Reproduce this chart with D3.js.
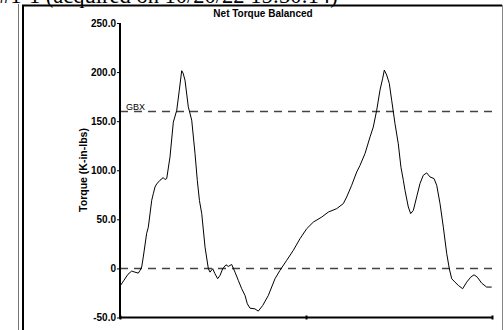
<!DOCTYPE html>
<html>
<head>
<meta charset="utf-8">
<script src="https://cdn.jsdelivr.net/npm/d3@7/dist/d3.min.js"></script>
<style>
  html, body { margin: 0; padding: 0; background: #fff; overflow: hidden; }
  svg { display: block; }
</style>
</head>
<body>
<script>
// Crank angle (deg) and net balanced torque (K-in-lbs)
const angle = [0, 3.9, 7.7, 11.3, 14.5, 17.7, 19.4, 21, 22.5, 25.8, 27.4, 30.7, 32.2, 33.9, 35.5,
  38.7, 41.9, 43.5, 45.2, 48.4, 51.6, 54.9, 57.4, 59.7, 61, 62.9, 66.1, 69.4, 72.6, 74.8, 76.9,
  79.1, 82.3, 85.5, 87.1, 89.7, 91.9, 94.5, 96.8, 99.4, 102.6, 104.8, 108.1, 111.3, 114.5, 117.8,
  121, 123.2, 125.8, 130.6, 133.8, 138.1, 143.5, 150, 154.8, 161.3, 167.7, 174.2, 180.7, 187.1,
  195.2, 201.6, 209.7, 216.1, 219.4, 224.2, 229.1, 232.3, 237.1, 242, 245.1, 248.4, 251.6, 254.2,
  255.8, 258.1, 260.6, 262.9, 266.1, 269.3, 271.9, 274.2, 275.8, 279, 281.3, 283.9, 287.1, 290.3,
  293.5, 296.8, 300, 303.9, 306.5, 309.7, 312.9, 316.2, 318.7, 321, 324.2, 327.4, 331.6, 335.5,
  339.4, 342.6, 345.8, 350, 354.8, 359.7];
const torque = [-18, -12, -6, -2.7, -3.8, -4.8, -2, 1.4, 11.5, 35.7, 42, 69.4, 76, 83, 86,
  89.8, 92.5, 90.5, 91.5, 113.6, 149, 161, 181.6, 201.4, 199, 191.8, 164.6, 151, 117, 89.8, 69,
  55.8, 21.7, -0.3, -3.8, -0.3, -5.4, -10.5, -7.1, -0.3, 3.7, 2, 4, -3.8, -12.2, -20.7,
  -27.6, -36, -40.5, -41.2, -43.5, -37.8, -27.6, -10.5, -2, 8.2, 18.4, 30.3, 40.5, 47.2,
  52.3, 57.4, 60.9, 66, 72.8, 84.7, 98.3, 105, 117, 134, 144, 161, 181.6, 193.6,
  202, 197, 188.5, 171.4, 147.6, 127, 103, 89.8, 79.6, 62.6, 55.8, 59.2, 72.8, 86.4,
  94.9, 97.3, 93.2, 91.5, 84.7, 66, 42, 15, -0.3, -10.5, -14, -17.3, -20.7, -14,
  -8.9, -6.5, -8.9, -15, -19, -19];

const yTicks = [250, 200, 150, 100, 50, 0, -50];
const yTickLabels = ["250.0", "200.0", "150.0", "100.0", "50.0", "0", "-50.0"];
const xTicks = [0, 180, 360];
const refLines = [{ value: 160, label: "GBX" }, { value: 0, label: "" }];

const W = 504, H = 330;
const svg = d3.select("body").append("svg").attr("width", W).attr("height", H);

const sans = "'Liberation Sans', Arial, sans-serif";

// Report header line, running off the top of the page
svg.append("text")
  .attr("x", -1).attr("y", 2.5)
  .attr("font-family", "'Liberation Serif', 'Times New Roman', serif")
  .attr("font-size", 22.5)
  .attr("fill", "#000")
  .text("#1-1 (acquired on 10/20/22 15:30:14)");

// Panel frames
svg.append("line").attr("x1", 18.5).attr("x2", 18.5).attr("y1", 4).attr("y2", H)
  .attr("stroke", "#777").attr("stroke-width", 1);
svg.append("line").attr("x1", 23).attr("x2", 23).attr("y1", 5).attr("y2", H)
  .attr("stroke", "#000").attr("stroke-width", 2);
svg.append("line").attr("x1", 22).attr("x2", 502).attr("y1", 5.5).attr("y2", 5.5)
  .attr("stroke", "#000").attr("stroke-width", 2);
svg.append("line").attr("x1", 502.5).attr("x2", 502.5).attr("y1", 5).attr("y2", H)
  .attr("stroke", "#888").attr("stroke-width", 1);

const x = d3.scaleLinear().domain([0, 360]).range([120, 492]);
const y = d3.scaleLinear().domain([-50, 250]).range([317.5, 23]);

// Title
svg.append("text")
  .attr("x", 263).attr("y", 17)
  .attr("text-anchor", "middle")
  .attr("font-family", sans).attr("font-size", 10).attr("font-weight", "bold")
  .text("Net Torque Balanced");

// Reference lines
refLines.forEach(r => {
  svg.append("line")
    .attr("x1", x(0)).attr("x2", x(360))
    .attr("y1", Math.round(y(r.value)) + 0.5).attr("y2", Math.round(y(r.value)) + 0.5)
    .attr("stroke", "#444").attr("stroke-width", 1.3)
    .attr("stroke-dasharray", "8,6");
  if (r.label) {
    svg.append("text")
      .attr("x", x(0) + 6).attr("y", y(r.value) - 1.5)
      .attr("font-family", sans).attr("font-size", 9)
      .text(r.label);
  }
});

// Torque trace
const pts = angle.map((a, i) => [a, torque[i]]);
svg.append("path")
  .datum(pts)
  .attr("fill", "none")
  .attr("stroke", "#000")
  .attr("stroke-width", 1)
  .attr("d", d3.line().x(d => x(d[0])).y(d => y(d[1])));

// Y axis
const yAxis = d3.axisLeft(y).tickValues(yTicks)
  .tickFormat((d, i) => yTickLabels[i]).tickSize(3).tickPadding(1);
const gy = svg.append("g").attr("transform", "translate(120,0)").call(yAxis);
gy.select(".domain").attr("stroke-width", 2).attr("d", `M0,${y(250)}V${y(-50)}`);
gy.selectAll("text").attr("font-family", sans).attr("font-size", 10).attr("font-weight", "bold");

// X axis (unlabelled)
const xAxis = d3.axisBottom(x).tickValues(xTicks).tickFormat("").tickSize(2);
const gx = svg.append("g").attr("transform", `translate(0,${y(-50)})`).call(xAxis);
gx.select(".domain").attr("stroke-width", 2).attr("d", `M${x(0) - 1},0H${x(360)}`);
gx.selectAll(".tick line").attr("y1", -2).attr("stroke-width", 2);

// Y axis title
svg.append("text")
  .attr("transform", "translate(87,170) rotate(-90)")
  .attr("text-anchor", "middle")
  .attr("font-family", sans).attr("font-size", 10.5).attr("font-weight", "bold")
  .text("Torque (K-in-lbs)");
</script>
</body>
</html>
